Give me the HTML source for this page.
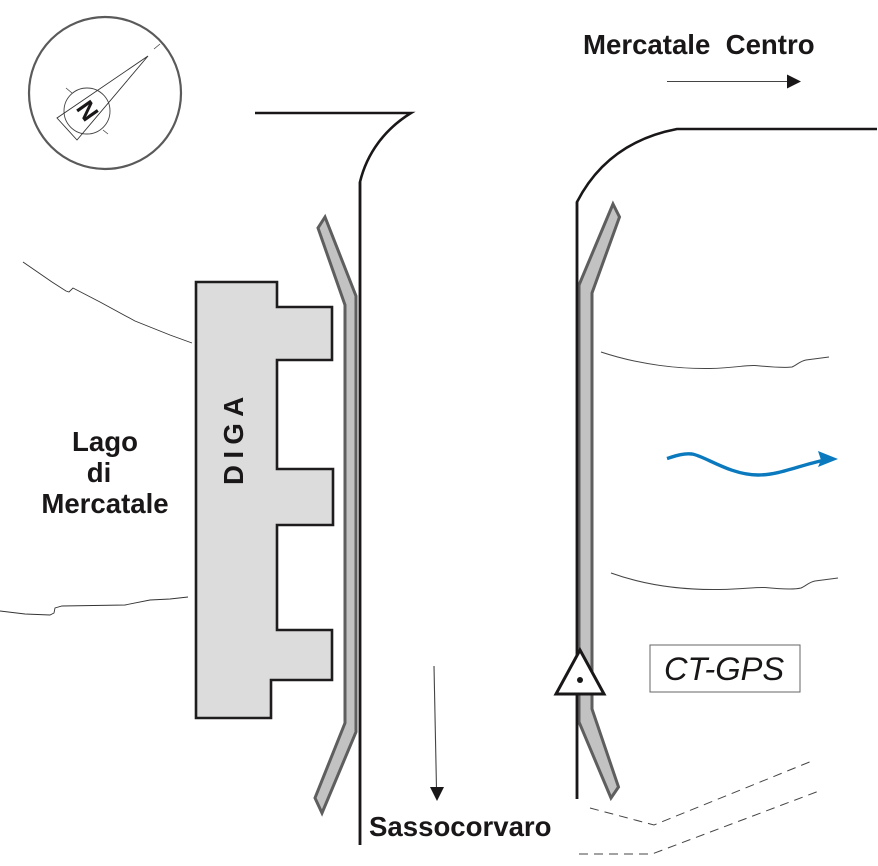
<!DOCTYPE html>
<html><head><meta charset="utf-8"><style>
html,body{margin:0;padding:0;background:#fff;width:878px;height:866px;overflow:hidden}
svg{display:block}
text{font-family:"Liberation Sans",sans-serif;fill:#1a1718}
.b{font-weight:bold;font-size:27.6px}
</style></head><body>
<svg width="878" height="866" viewBox="0 0 878 866" xmlns="http://www.w3.org/2000/svg">
<!-- compass -->
<circle cx="105" cy="93" r="76" fill="#fff" stroke="#5a5a5a" stroke-width="2.2"/>
<circle cx="87" cy="111" r="23" fill="none" stroke="#444" stroke-width="0.9"/>
<path d="M148 56L57 118L77 140Z" fill="none" stroke="#333" stroke-width="0.9"/>
<path d="M66 88L72 93M103 130L108 134M154 49L160 44" stroke="#444" stroke-width="0.8" fill="none"/>
<text x="0" y="0" transform="translate(87,111) rotate(55)" text-anchor="middle" dominant-baseline="central" style="font-size:25px;font-weight:bold">N</text>
<!-- roads -->
<path d="M255 113H411C385 129 367 153 360 182V845" fill="none" stroke="#1a1718" stroke-width="2.6"/>
<path d="M877 129H677C630 138 597 163 577 202V799" fill="none" stroke="#1a1718" stroke-width="2.6"/>
<!-- barriers -->
<path d="M325 217L318 228L345 305V723L315 798L322 813L356 732V296Z" fill="#c2c2c2" stroke="#5e5e5e" stroke-width="3"/>
<path d="M360 182V845" fill="none" stroke="#1a1718" stroke-width="2.6"/>
<path d="M613 204L619.500 217L592 293V709L618.500 787L611 798L579 722V285Z" fill="#c2c2c2" stroke="#5e5e5e" stroke-width="3"/>
<path d="M577 202V799" fill="none" stroke="#1a1718" stroke-width="2.6"/>
<!-- dam -->
<path d="M196 282H277V307H332V360H277V469H333V525H277V630H332V680H271V718H196Z" fill="#dcdcdc" stroke="#1f1c1d" stroke-width="2.6"/>
<text transform="translate(243,485) rotate(-90)" style="font-size:27.6px;font-weight:bold;letter-spacing:6.4px">DIGA</text>
<!-- lake edges -->
<path d="M23 262L52 282L66 291L69 292L73 288L100 302L135 321L170 335L192 343" fill="none" stroke="#333" stroke-width="0.9"/>
<path d="M0 611L25 614L50 615L54 613L55 608L62 606L125 605L150 600L170 599L188 597" fill="none" stroke="#333" stroke-width="0.9"/>
<!-- river banks -->
<path d="M601 352C640 365 680 369 710 368.500C735 368 745 365 755 365.500C770 367 785 368 792 367C797 365 800 361 806 360L829 357" fill="none" stroke="#444" stroke-width="1"/>
<path d="M611 573C650 587 690 590 720 589.500C745 589 755 587 765 587.500C780 589 795 589.500 801 588C806 586 809 582 815 581L838 578" fill="none" stroke="#444" stroke-width="1"/>
<!-- flow -->
<path d="M667 458.500C675 456 683 453 692 454C705 456 730 475 758 475C780 475 800 465 825 460" fill="none" stroke="#0a79bd" stroke-width="3.4"/>
<path d="M838 459L818 451L821 460L818 467Z" fill="#0a79bd"/>
<!-- arrows -->
<path d="M667 81.500H789" stroke="#444" stroke-width="1.1"/>
<path d="M801 81.500L787 74.500V88.500Z" fill="#1a1718"/>
<path d="M434 666L436.500 789" stroke="#444" stroke-width="1.1"/>
<path d="M437 801L430 787H444Z" fill="#1a1718"/>
<!-- gps -->
<path d="M580 650L604 694H556Z" fill="#fff" stroke="#1a1718" stroke-width="3"/>
<circle cx="580" cy="680" r="3" fill="#1a1718"/>
<rect x="650" y="645" width="150" height="47" fill="#fff" stroke="#666" stroke-width="1"/>
<text x="664" y="680" style="font-size:32.6px;font-style:italic">CT-GPS</text>
<!-- dashes -->
<path d="M590 808L654 825L812 761" fill="none" stroke="#444" stroke-width="1" stroke-dasharray="9 6"/>
<path d="M579 854H652L819 791" fill="none" stroke="#444" stroke-width="1" stroke-dasharray="9 6"/>
<!-- labels -->
<text x="583" y="54" class="b" style="white-space:pre">Mercatale  Centro</text>
<text x="105" y="451" class="b" text-anchor="middle">Lago</text>
<text x="99" y="482" class="b" text-anchor="middle">di</text>
<text x="105" y="513" class="b" text-anchor="middle">Mercatale</text>
<text x="369" y="836" class="b">Sassocorvaro</text>
</svg>
</body></html>
